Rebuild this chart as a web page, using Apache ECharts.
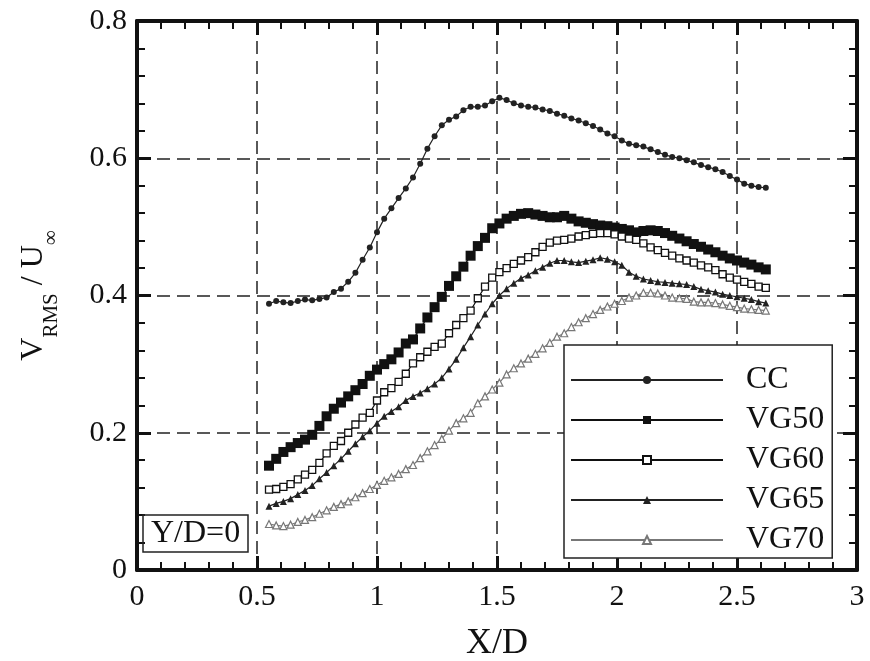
<!DOCTYPE html>
<html>
<head>
<meta charset="utf-8">
<script src="https://cdn.jsdelivr.net/npm/echarts@6/dist/echarts.min.js"></script>
<style>html,body{margin:0;padding:0;background:#fff;}#c{width:870px;height:661px;}</style>
</head>
<body>
<div id="c"></div>
<script>
// X/D positions shared by all series
const xVals = [0.55,0.58,0.61,0.64,0.67,0.70,0.73,0.76,0.79,0.82,0.85,0.88,0.91,0.94,0.97,1.00,1.03,1.06,1.09,1.12,1.15,1.18,1.21,1.24,1.27,1.30,1.33,1.36,1.39,1.42,1.45,1.48,1.51,1.54,1.57,1.60,1.63,1.66,1.69,1.72,1.75,1.78,1.81,1.84,1.87,1.90,1.93,1.96,1.99,2.02,2.05,2.08,2.11,2.14,2.17,2.20,2.23,2.26,2.29,2.32,2.35,2.38,2.41,2.44,2.47,2.50,2.53,2.56,2.59,2.62];

const seriesNames = ['CC','VG50','VG60','VG65','VG70'];

const cc = [0.388,0.392,0.390,0.389,0.392,0.394,0.393,0.395,0.397,0.405,0.410,0.420,0.433,0.452,0.470,0.492,0.512,0.527,0.542,0.556,0.572,0.592,0.614,0.632,0.648,0.656,0.661,0.670,0.675,0.675,0.677,0.683,0.688,0.685,0.680,0.677,0.675,0.674,0.671,0.669,0.665,0.662,0.658,0.655,0.651,0.647,0.642,0.636,0.632,0.626,0.621,0.619,0.617,0.613,0.609,0.605,0.602,0.600,0.597,0.594,0.590,0.587,0.584,0.580,0.574,0.569,0.563,0.560,0.558,0.557];

const vg50 = [0.152,0.162,0.172,0.179,0.185,0.190,0.197,0.210,0.224,0.235,0.244,0.253,0.262,0.271,0.283,0.292,0.300,0.307,0.317,0.330,0.336,0.352,0.368,0.383,0.398,0.414,0.428,0.442,0.458,0.472,0.484,0.498,0.505,0.512,0.516,0.519,0.520,0.518,0.516,0.514,0.514,0.516,0.512,0.508,0.506,0.504,0.502,0.501,0.499,0.497,0.495,0.492,0.494,0.495,0.494,0.491,0.487,0.483,0.479,0.475,0.471,0.467,0.463,0.458,0.454,0.451,0.448,0.445,0.441,0.438];

const vg60 = [0.117,0.118,0.121,0.125,0.132,0.139,0.146,0.156,0.170,0.181,0.188,0.200,0.212,0.222,0.229,0.247,0.259,0.265,0.274,0.286,0.301,0.310,0.318,0.325,0.330,0.345,0.357,0.367,0.378,0.396,0.413,0.426,0.434,0.440,0.446,0.451,0.456,0.463,0.471,0.477,0.480,0.481,0.483,0.486,0.488,0.490,0.491,0.491,0.489,0.486,0.483,0.481,0.476,0.470,0.466,0.462,0.458,0.454,0.451,0.448,0.444,0.441,0.437,0.431,0.426,0.423,0.420,0.417,0.413,0.411];

const vg65 = [0.093,0.097,0.100,0.104,0.110,0.116,0.123,0.133,0.142,0.152,0.162,0.173,0.184,0.194,0.203,0.214,0.224,0.231,0.238,0.247,0.253,0.258,0.264,0.271,0.280,0.293,0.307,0.324,0.340,0.357,0.373,0.388,0.400,0.410,0.418,0.425,0.430,0.436,0.441,0.447,0.451,0.451,0.449,0.448,0.450,0.452,0.455,0.453,0.449,0.444,0.434,0.428,0.424,0.422,0.420,0.419,0.418,0.417,0.416,0.413,0.409,0.407,0.405,0.402,0.400,0.398,0.396,0.394,0.391,0.389];

const vg70 = [0.067,0.065,0.064,0.066,0.070,0.073,0.077,0.082,0.087,0.092,0.096,0.100,0.106,0.112,0.118,0.124,0.130,0.135,0.140,0.147,0.153,0.163,0.173,0.182,0.191,0.203,0.214,0.221,0.229,0.243,0.253,0.263,0.273,0.285,0.294,0.301,0.308,0.315,0.323,0.331,0.340,0.345,0.354,0.361,0.367,0.373,0.379,0.384,0.388,0.392,0.397,0.400,0.404,0.404,0.403,0.400,0.397,0.396,0.395,0.391,0.390,0.390,0.389,0.387,0.385,0.383,0.381,0.380,0.379,0.378];

const FONT = "'Liberation Serif','DejaVu Serif',serif";
const pair = arr => xVals.map((x, i) => [x, arr[i]]);

const chart = echarts.init(document.getElementById('c'), null, {renderer: 'canvas'});

const baseAxis = {
  axisLine: {show: true, onZero: false, lineStyle: {color: '#111', width: 4}},
  axisTick: {show: true, inside: true, length: 14, lineStyle: {color: '#111', width: 3}},
  minorTick: {show: true, splitNumber: 5, length: 8, lineStyle: {color: '#111', width: 2}},
};

const lineSeries = (name, data, symbol, size, color, fill, bw) => ({
  name, type: 'line', data: pair(data), symbol, symbolSize: size,
  showSymbol: true, animation: false,
  lineStyle: {color: color, width: 1.2},
  itemStyle: {color: fill, borderColor: color, borderWidth: bw},
  z: 3
});

chart.setOption({
  backgroundColor: '#fff',
  animation: false,
  title: {
    text: 'Y/D=0', left: 143, top: 515,
    padding: [2, 8, 1, 8],
    borderColor: '#222', borderWidth: 1.5,
    textStyle: {fontFamily: FONT, fontSize: 32, fontWeight: 'normal', color: '#111', lineHeight: 34}
  },
  grid: {left: 137, right: 13, top: 21, bottom: 91, containLabel: false, outerBoundsMode: 'none'},
  legend: {
    orient: 'vertical', left: 564, top: 345,
    data: seriesNames,
    backgroundColor: '#fff',
    borderColor: '#222', borderWidth: 1.5, borderRadius: 0,
    padding: [19, 8, 2, 6],
    itemWidth: 152, itemHeight: 10, itemGap: 8,
    textStyle: {fontFamily: FONT, fontSize: 32, color: '#111', lineHeight: 32, padding: [0, 0, 0, 18]}
  },
  xAxis: [
    Object.assign({}, baseAxis, {
      type: 'value', min: 0, max: 3, interval: 0.5,
      name: 'X/D', nameLocation: 'middle', nameGap: 56,
      nameTextStyle: {fontFamily: FONT, fontSize: 36, color: '#111'},
      axisLabel: {fontFamily: FONT, fontSize: 30, color: '#111', margin: 12},
      splitLine: {show: true, lineStyle: {color: '#222', width: 1.5, type: [13, 7]}}
    }),
    Object.assign({}, baseAxis, {
      type: 'value', min: 0, max: 3, interval: 0.5, position: 'top',
      axisLabel: {show: false}, splitLine: {show: false}
    })
  ],
  yAxis: [
    Object.assign({}, baseAxis, {
      type: 'value', min: 0, max: 0.8, interval: 0.2,
      name: 'V{s|RMS} / U{s|∞}', nameLocation: 'middle', nameGap: 75, nameRotate: 90,
      nameTextStyle: {
        fontFamily: FONT, fontSize: 32, color: '#111', lineHeight: 57,
        rich: {s: {fontFamily: FONT, fontSize: 21, lineHeight: 21, verticalAlign: 'bottom', color: '#111'}}
      },
      axisLabel: {fontFamily: FONT, fontSize: 30, color: '#111', margin: 10},
      splitLine: {show: true, lineStyle: {color: '#222', width: 1.5, type: [13, 7]}}
    }),
    Object.assign({}, baseAxis, {
      type: 'value', min: 0, max: 0.8, interval: 0.2, position: 'right',
      axisLabel: {show: false}, splitLine: {show: false}
    })
  ],
  series: [
    lineSeries('CC', cc, 'circle', 6, '#222', '#222', 0),
    lineSeries('VG50', vg50, 'rect', 10, '#111', '#111', 0),
    lineSeries('VG60', vg60, 'rect', 7, '#111', '#fff', 1.3),
    lineSeries('VG65', vg65, 'triangle', 7, '#222', '#222', 0),
    lineSeries('VG70', vg70, 'triangle', 7, '#777', '#fff', 1.2)
  ]
});
</script>
</body>
</html>
